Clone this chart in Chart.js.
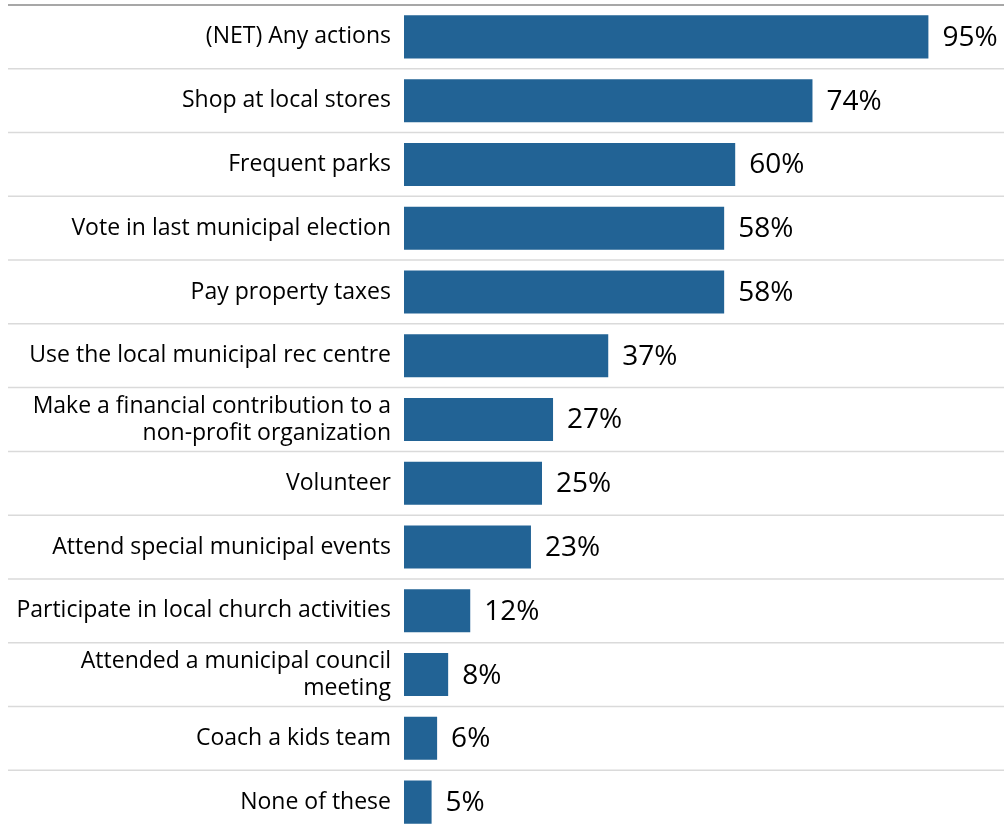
<!DOCTYPE html>
<html>
<head>
<meta charset="utf-8">
<script src="https://cdn.jsdelivr.net/npm/chart.js@4/dist/chart.umd.min.js"></script>
<style>
  html, body { margin: 0; padding: 0; background: #fff; overflow: hidden; }
  .wrap { width: 1004px; height: 834px; position: relative; }
</style>
</head>
<body>
<div class="wrap"><canvas id="barChart"></canvas></div>
<script>
// ==========================
// DATA
// ==========================
const kategori = [
  "(NET) Any actions",
  "Shop at local stores",
  "Frequent parks",
  "Vote in last municipal election",
  "Pay property taxes",
  "Use the local municipal rec centre",
  ["Make a financial contribution to a", "non-profit organization"],
  "Volunteer",
  "Attend special municipal events",
  "Participate in local church activities",
  ["Attended a municipal council", "meeting"],
  "Coach a kids team",
  "None of these"
];
const persen = [95, 74, 60, 58, 58, 37, 27, 25, 23, 12, 8, 6, 5];

const warnaBar = "#226395";
const fontLabel = "'Open Sans', sans-serif";

// ==========================
// PLUGIN: GARIS PEMISAH
// ==========================
const garisPemisah = {
  id: "garisPemisah",
  beforeDatasetsDraw(chart) {
    const ctx = chart.ctx;
    const y = chart.scales.y;
    const step = y.getPixelForValue(1) - y.getPixelForValue(0);
    ctx.save();
    for (let i = 0; i <= kategori.length; i++) {
      const py = y.getPixelForValue(i) - step / 2;
      ctx.beginPath();
      ctx.lineWidth = 1.5;
      ctx.strokeStyle = i === 0 ? "#8a8a8a" : "#dadada";
      ctx.moveTo(8, py);
      ctx.lineTo(chart.width, py);
      ctx.stroke();
    }
    ctx.restore();
  }
};

// ==========================
// PLUGIN: LABEL NILAI
// ==========================
const labelNilai = {
  id: "labelNilai",
  afterDatasetsDraw(chart) {
    const ctx = chart.ctx;
    const meta = chart.getDatasetMeta(0);
    ctx.save();
    ctx.font = "28px " + fontLabel;
    ctx.fillStyle = "#000";
    ctx.textAlign = "left";
    ctx.textBaseline = "middle";
    meta.data.forEach((bar, i) => {
      ctx.fillText(persen[i] + "%", bar.x + 14, bar.y + 1);
    });
    ctx.restore();
  }
};

// ==========================
// CHART
// ==========================
const barCtx = document.getElementById("barChart");

new Chart(barCtx, {
  type: "bar",
  data: {
    labels: kategori,
    datasets: [{
      data: persen,
      backgroundColor: warnaBar,
      borderWidth: 0,
      barPercentage: 0.675,
      categoryPercentage: 1
    }]
  },
  options: {
    indexAxis: "y",
    responsive: true,
    maintainAspectRatio: false,
    animation: false,
    layout: { padding: { left: 0, right: 48, top: 5, bottom: 0 } },
    plugins: {
      legend: { display: false },
      tooltip: { enabled: false }
    },
    scales: {
      x: {
        display: false,
        min: 0,
        max: 100
      },
      y: {
        afterFit(scale) {
          scale.width = 404;
          scale.paddingTop = 0;
          scale.paddingBottom = 0;
        },
        grid: { display: false },
        border: { display: false },
        ticks: {
          color: "#000",
          padding: 5,
          font: { family: fontLabel, size: 23, lineHeight: 1.17 }
        }
      }
    }
  },
  plugins: [garisPemisah, labelNilai]
});
</script>
</body>
</html>
